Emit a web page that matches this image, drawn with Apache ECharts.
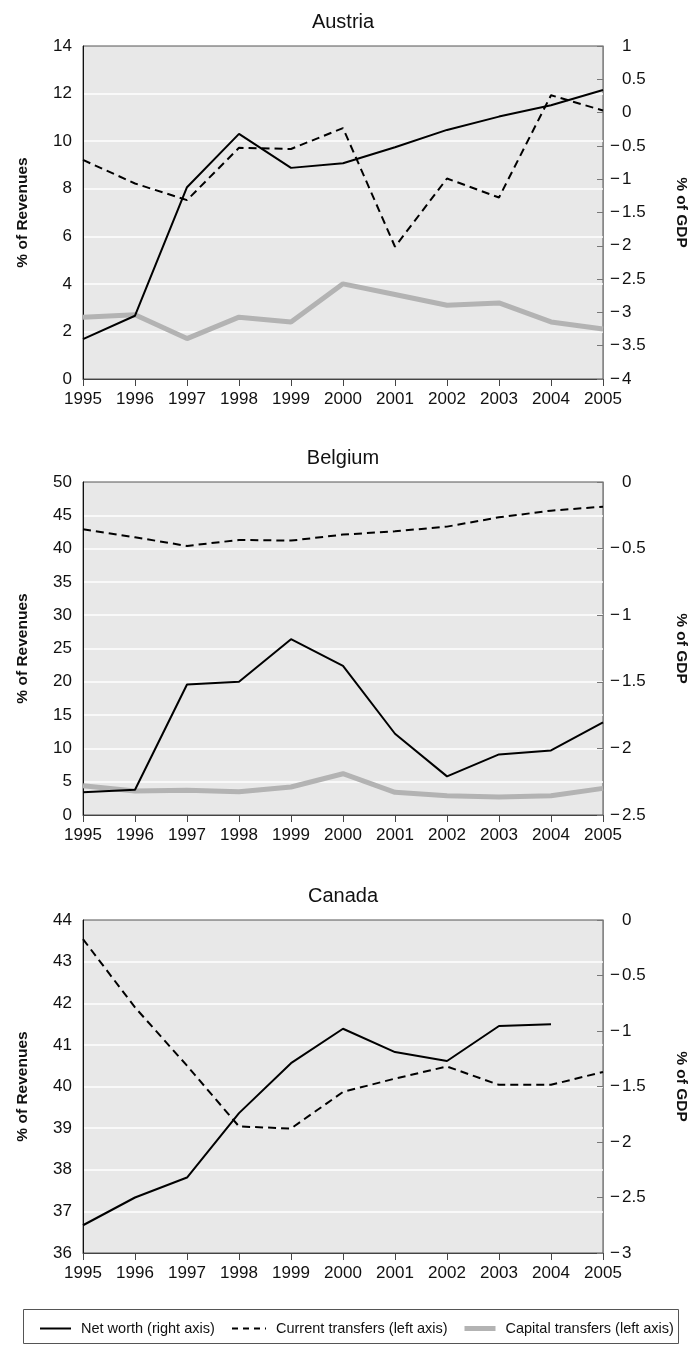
<!DOCTYPE html>
<html>
<head>
<meta charset="utf-8">
<script src="https://cdn.jsdelivr.net/npm/echarts@6/dist/echarts.min.js"></script>
<style>
  html, body { margin: 0; padding: 0; background: #fff; }
  #chart { width: 697px; height: 1345px; }
</style>
</head>
<body>
<div id="chart"></div>
<script>
// years on the x axis
const years = ['1995', '1996', '1997', '1998', '1999', '2000', '2001', '2002', '2003', '2004', '2005'];

// Austria
const austriaNet = [-3.4, -3.05, -1.12, -0.32, -0.83, -0.76, -0.52, -0.26, -0.06, 0.11, 0.34];
const austriaCurrent = [9.21, 8.22, 7.52, 9.72, 9.67, 10.55, 5.56, 8.43, 7.63, 11.93, 11.29];
const austriaCapital = [2.6, 2.7, 1.7, 2.6, 2.4, 4.0, 3.55, 3.1, 3.2, 2.4, 2.1];

// Belgium
const belgiumNet = [-2.33, -2.31, -1.52, -1.5, -1.18, -1.38, -1.89, -2.21, -2.045, -2.015, -1.805];
const belgiumCurrent = [42.9, 41.7, 40.4, 41.3, 41.2, 42.1, 42.6, 43.3, 44.7, 45.7, 46.3];
const belgiumCapital = [4.4, 3.6, 3.7, 3.5, 4.2, 6.2, 3.4, 2.9, 2.7, 2.9, 4.0];

// Canada (capital transfers fall below the axis range, not drawn)
const canadaNet = [-2.75, -2.5, -2.32, -1.74, -1.29, -0.98, -1.19, -1.27, -0.955, -0.94, null];
const canadaCurrent = [43.54, 41.9, 40.5, 39.04, 38.99, 39.87, 40.19, 40.48, 40.04, 40.04, 40.35];

const panelTitles = ['Austria', 'Belgium', 'Canada'];
const leftRanges = [[0, 14, 2], [0, 50, 5], [36, 44, 1]];
const rightRanges = [[-4, 1, 0.5], [-2.5, 0, 0.5], [-3, 0, 0.5]];

const NET = 'Net worth (right axis)';
const CUR = 'Current transfers (left axis)';
const CAP = 'Capital transfers (left axis)';

const FAM = '"Liberation Sans", Arial, sans-serif';
const tops = [46, 482, 920];
const plotH = 333;

function fmtRight(v) {
    const s = String(Math.abs(v));
    return v < 0 ? '{m|\u2212}' + s : '{m|}' + s;
}

const txt = { fontFamily: FAM, color: '#111' };

const grids = [], xAxes = [], yAxes = [], series = [], graphics = [];

tops.forEach(function (top, i) {
    grids.push({
        left: 83, right: 94, top: top, height: plotH,
        show: true, backgroundColor: '#e8e8e8',
        borderColor: '#555', borderWidth: 1
    });
    xAxes.push({
        gridIndex: i, type: 'category', data: years, boundaryGap: false,
        axisLine: { onZero: false, lineStyle: { color: '#444', width: 1 } },
        axisTick: { show: true, interval: 0, length: 7, lineStyle: { color: '#444' } },
        axisLabel: Object.assign({ interval: 0, fontSize: 17, margin: 12 }, txt),
        splitLine: { show: false }
    });
    yAxes.push({
        gridIndex: i, type: 'value', position: 'left',
        min: leftRanges[i][0], max: leftRanges[i][1], interval: leftRanges[i][2],
        name: '% of Revenues', nameLocation: 'middle', nameGap: 52,
        nameTextStyle: Object.assign({ fontSize: 15.5, fontWeight: 'bold' }, txt),
        axisLine: { show: true, lineStyle: { color: '#111' } },
        axisTick: { show: false },
        axisLabel: Object.assign({ fontSize: 17, margin: 11 }, txt),
        splitLine: { show: true, showMinLine: false, showMaxLine: false, lineStyle: { color: '#fff', width: 1.5 } }
    });
    yAxes.push({
        gridIndex: i, type: 'value', position: 'right',
        min: rightRanges[i][0], max: rightRanges[i][1], interval: rightRanges[i][2],
        name: '% of GDP', nameLocation: 'middle', nameGap: 70, nameRotate: -90,
        nameTextStyle: Object.assign({ fontSize: 15.5, fontWeight: 'bold' }, txt),
        axisLine: { show: true, lineStyle: { color: '#888' } },
        axisTick: { show: true, inside: true, length: 6, lineStyle: { color: '#777' } },
        axisLabel: Object.assign({
            fontSize: 17, margin: 7,
            formatter: fmtRight,
            rich: { m: Object.assign({ width: 12, fontSize: 17 }, txt) }
        }, txt),
        splitLine: { show: false }
    });
    graphics.push({
        type: 'text', x: 343, y: top - 24,
        style: { text: panelTitles[i], font: '20px ' + FAM, fill: '#111', align: 'center', verticalAlign: 'middle' }
    });
});

function capLine(i, data) {
    return { name: CAP, type: 'line', xAxisIndex: i, yAxisIndex: i * 2, data: data, symbol: 'none',
        lineStyle: { color: '#b3b3b3', width: 5 }, itemStyle: { color: '#b3b3b3' }, z: 2 };
}
function curLine(i, data) {
    return { name: CUR, type: 'line', xAxisIndex: i, yAxisIndex: i * 2, data: data, symbol: 'none',
        lineStyle: { color: '#000', width: 2, type: [8, 5] }, itemStyle: { color: '#000' }, z: 3 };
}
function netLine(i, data) {
    return { name: NET, type: 'line', xAxisIndex: i, yAxisIndex: i * 2 + 1, data: data, symbol: 'none',
        lineStyle: { color: '#000', width: 2 }, itemStyle: { color: '#000' }, z: 4 };
}

series.push(capLine(0, austriaCapital), curLine(0, austriaCurrent), netLine(0, austriaNet));
series.push(capLine(1, belgiumCapital), curLine(1, belgiumCurrent), netLine(1, belgiumNet));
series.push(curLine(2, canadaCurrent), netLine(2, canadaNet));

// legend frame
graphics.push({
    type: 'rect', shape: { x: 23.5, y: 1309.5, width: 655, height: 34 },
    style: { fill: 'none', stroke: '#555', lineWidth: 1 }
});

function legendAt(name, left, w, line) {
    return {
        data: [name], left: left, top: 1321, padding: 0,
        itemWidth: w, itemHeight: 14, selectedMode: false,
        itemStyle: { opacity: 0 },
        lineStyle: line,
        textStyle: Object.assign({ fontSize: 14.5, padding: [0, 0, 0, 5] }, txt)
    };
}

let chart = echarts.init(document.getElementById('chart'));
chart.setOption({
    animation: false,
    grid: grids,
    xAxis: xAxes,
    yAxis: yAxes,
    legend: [
        legendAt(NET, 39, 31, { width: 2 }),
        legendAt(CUR, 231, 34, { width: 2, type: [6, 5] }),
        legendAt(CAP, 462, 31, { width: 5, color: '#b3b3b3' })
    ],
    graphic: graphics,
    series: series
});
</script>
</body>
</html>
